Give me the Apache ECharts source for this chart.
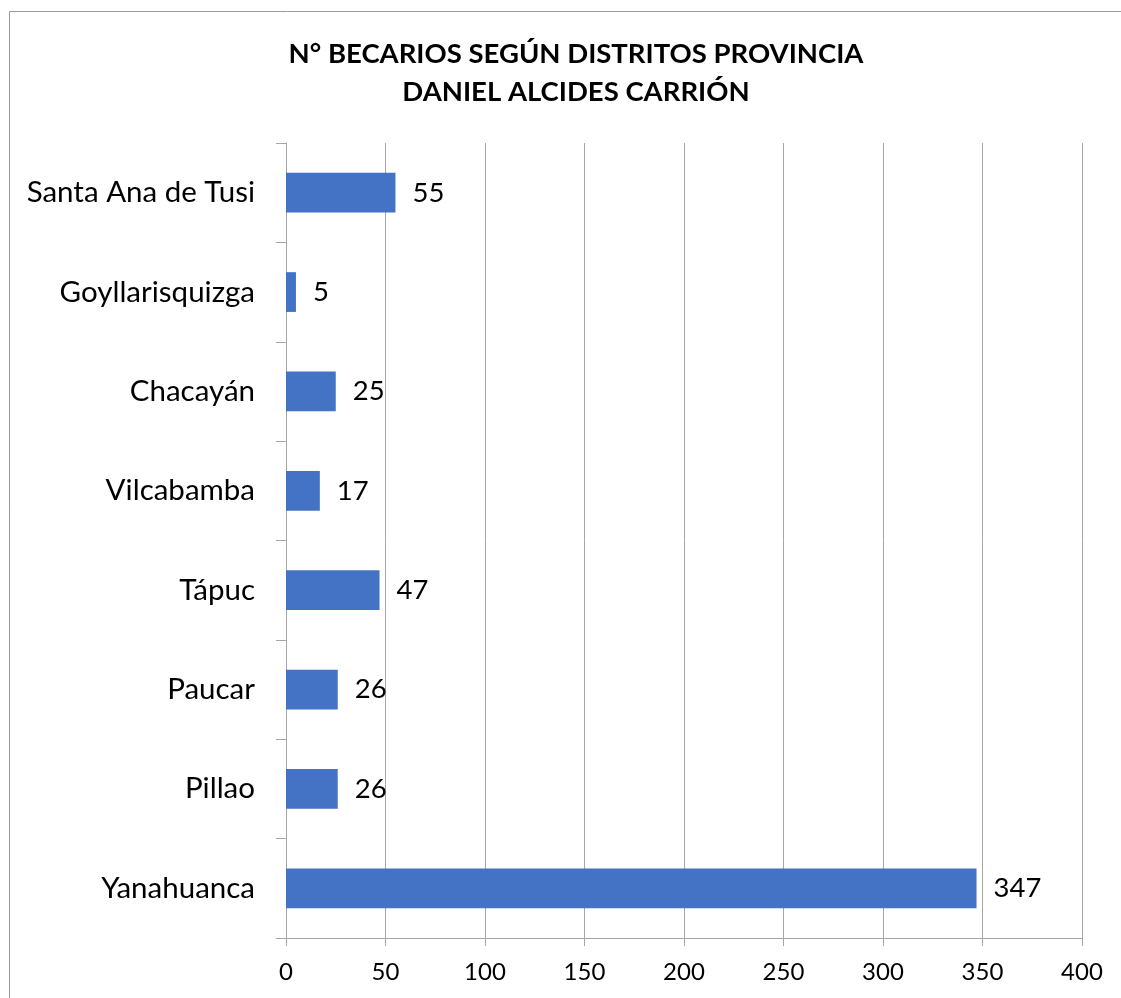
<!DOCTYPE html>
<html>
<head>
<meta charset="utf-8">
<script src="https://cdn.jsdelivr.net/npm/echarts@6/dist/echarts.min.js"></script>
<style>
  html, body { margin: 0; padding: 0; background: #fff; }
  #chart { width: 1121px; height: 998px; }
</style>
</head>
<body>
<div id="chart"></div>
<script>
// categories listed bottom to top, as ECharts draws a category y axis
const districts = ['Yanahuanca', 'Pillao', 'Paucar', 'Tápuc', 'Vilcabamba', 'Chacayán', 'Goyllarisquizga', 'Santa Ana de Tusi'];
const becarios = [347, 26, 26, 47, 17, 25, 5, 55];
const xTicks = [0, 50, 100, 150, 200, 250, 300, 350, 400];

const fontFam = 'Lato, Open Sans, sans-serif';
const axisGray = '#a6a6a6';

const myChart = echarts.init(document.getElementById('chart'));
myChart.setOption({
  animation: false,
  backgroundColor: '#ffffff',
  title: {
    text: 'N° BECARIOS SEGÚN DISTRITOS PROVINCIA\nDANIEL ALCIDES CARRIÓN',
    left: 571,
    top: 30,
    textAlign: 'center',
    textStyle: {
      fontFamily: fontFam,
      fontSize: 27.5,
      fontWeight: 'bold',
      color: '#000',
      lineHeight: 38
    }
  },
  graphic: [{
    type: 'rect',
    shape: { x: 9.5, y: 11.5, width: 1200, height: 1100 },
    style: { fill: 'none', stroke: '#9a9a9a', lineWidth: 1 },
    silent: true
  }],
  grid: {
    left: 286,
    right: 39,
    top: 143,
    bottom: 60,
    containLabel: false
  },
  xAxis: {
    type: 'value',
    min: xTicks[0],
    max: xTicks[xTicks.length - 1],
    interval: 50,
    axisLine: { show: true, lineStyle: { color: axisGray, width: 1 } },
    axisTick: { show: true, length: 8, lineStyle: { color: axisGray } },
    splitLine: { show: true, lineStyle: { color: axisGray, width: 1 } },
    axisLabel: {
      margin: 22,
      fontFamily: fontFam,
      fontSize: 24,
      color: '#000'
    }
  },
  yAxis: {
    type: 'category',
    data: districts,
    axisLine: { show: true, lineStyle: { color: axisGray, width: 1 } },
    axisTick: { show: true, length: 10, lineStyle: { color: axisGray } },
    axisLabel: {
      margin: 31,
      fontFamily: fontFam,
      fontSize: 29.5,
      color: '#000'
    }
  },
  series: [{
    type: 'bar',
    data: becarios,
    barWidth: '40%',
    itemStyle: { color: '#4472c4' },
    label: {
      show: true,
      position: 'right',
      distance: 17,
      fontFamily: fontFam,
      fontSize: 27.5,
      color: '#000'
    }
  }]
});
</script>
</body>
</html>
